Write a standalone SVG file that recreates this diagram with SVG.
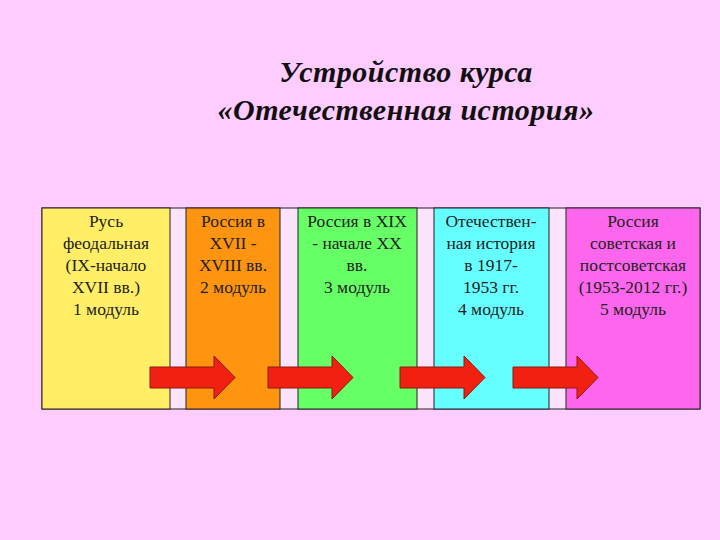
<svg xmlns="http://www.w3.org/2000/svg" width="720" height="540" viewBox="0 0 720 540">
<style>
.t{font-family:"Liberation Serif",serif;font-size:17.5px;fill:#222;text-anchor:middle}
.h{font-family:"Liberation Serif",serif;font-size:30px;font-style:italic;font-weight:bold;fill:#111;text-anchor:middle;letter-spacing:0.5px}
.b{stroke:#222;stroke-width:1}
.arr{fill:#f22010;stroke:#8a1a10;stroke-width:1}
</style>
<defs><path id="a" d="M0,11 H64 V0 L85,21.5 L64,43 V32 H0 Z"/></defs>
<rect width="720" height="540" fill="#ffccff"/>
<text class="h" x="406" y="82">Устройство курса</text>
<text class="h" x="406" y="120">«Отечественная история»</text>
<rect x="42" y="208" width="658" height="201" fill="#fbe3fb" class="b"/>
<g id="n1"><rect x="42" y="208" width="128" height="201" fill="#ffee66" class="b"/>
<text class="t" x="106" y="227">Русь</text><text class="t" x="106" y="249">феодальная</text><text class="t" x="106" y="271">(IX-начало</text><text class="t" x="106" y="293">XVII вв.)</text><text class="t" x="106" y="315">1 модуль</text></g>
<g id="n2"><rect x="186" y="208" width="94" height="201" fill="#ff9411" class="b"/>
<text class="t" x="233" y="227">Россия в</text><text class="t" x="233" y="249">XVII -</text><text class="t" x="233" y="271">XVIII  вв.</text><text class="t" x="233" y="293">2 модуль</text></g>
<g id="n3"><rect x="298" y="208" width="119" height="201" fill="#66ff66" class="b"/>
<text class="t" x="357" y="227">Россия в XIX</text><text class="t" x="357" y="249">- начале XX</text><text class="t" x="357" y="271">вв.</text><text class="t" x="357" y="293">3 модуль</text></g>
<g id="n4"><rect x="434" y="208" width="115" height="201" fill="#66ffff" class="b"/>
<text class="t" x="491" y="227">Отечествен-</text><text class="t" x="491" y="249">ная история</text><text class="t" x="491" y="271">в  1917-</text><text class="t" x="491" y="293">1953 гг.</text><text class="t" x="491" y="315">4 модуль</text></g>
<g id="n5"><rect x="566" y="208" width="134" height="201" fill="#ff66ee" class="b"/>
<text class="t" x="633" y="227">Россия</text><text class="t" x="633" y="249">советская и</text><text class="t" x="633" y="271">постсоветская</text><text class="t" x="633" y="293">(1953-2012 гг.)</text><text class="t" x="633" y="315">5 модуль</text></g>
<g id="connectors">
<use href="#a" class="arr" x="150" y="356"/>
<use href="#a" class="arr" x="268" y="356"/>
<use href="#a" class="arr" x="400" y="356"/>
<use href="#a" class="arr" x="513" y="356"/>
</g>
</svg>
